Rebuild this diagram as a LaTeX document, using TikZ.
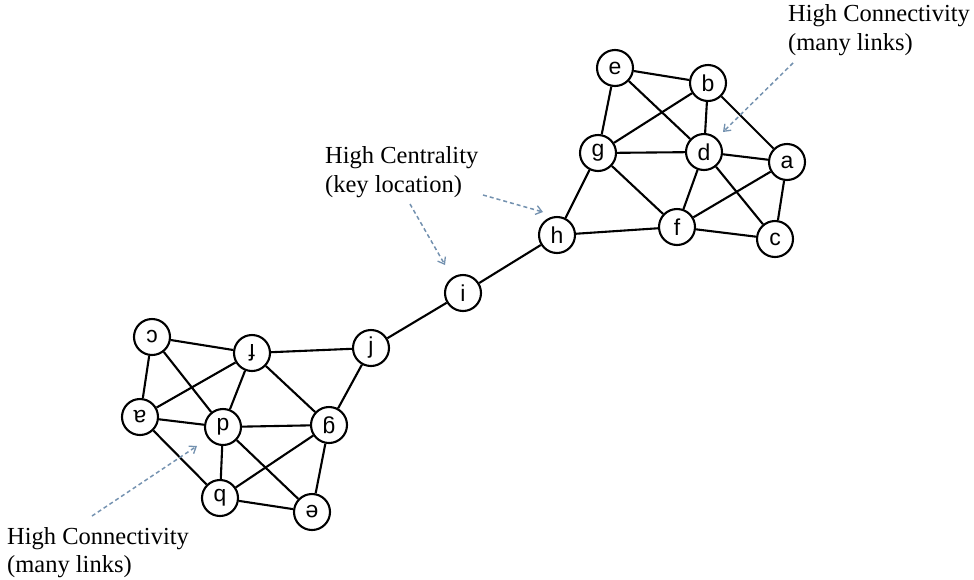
\documentclass[tikz,border=0pt]{standalone}
\usepackage{fontspec}
\setmainfont{Liberation Serif}
\newfontfamily\nodefont{Liberation Sans}
\usetikzlibrary{arrows.meta}
\definecolor{arrowc}{RGB}{115,145,175}
\tikzset{
  vtx/.style={circle,draw=black,line width=2.1pt,minimum size=36pt,inner sep=0pt,fill=white,font=\nodefont\fontsize{23}{23}\selectfont},
  flip/.style={vtx,rotate=180},
  link/.style={line width=2.1pt,black},
  note/.style={anchor=base west,inner sep=0pt,font=\fontsize{24.5}{28}\selectfont},
  pointer/.style={arrowc,line width=1.5pt,dash pattern=on 4pt off 3pt,-{Straight Barb[length=6pt,width=9pt,line width=1.3pt]}}
}
\begin{document}
\begin{tikzpicture}[x=1pt,y=-1pt]
\useasboundingbox (0,0) rectangle (974,579);
% upper cluster
\node[vtx] (e) at (615,68) {e};
\node[vtx] (b) at (708,83) {b};
\node[vtx] (g) at (598,153) {g};
\node[vtx] (d) at (704,152) {d};
\node[vtx] (a) at (787,162) {a};
\node[vtx] (h) at (557,235) {h};
\node[vtx] (f) at (677,227) {f};
\node[vtx] (c) at (775,239) {c};
% bridge
\node[vtx] (i) at (463,293) {i};
\node[vtx] (j) at (371,348) {j};
% lower cluster (upside-down labels)
\node[flip] (Lc) at (152,337) {c};
\node[flip] (Lf) at (252,353) {f};
\node[flip] (La) at (140,417) {a};
\node[flip] (Ld) at (223,427) {d};
\node[flip] (Lg) at (329,425) {g};
\node[flip] (Lb) at (220,498) {b};
\node[flip] (Le) at (312,512) {e};
% edges
\foreach \u/\v in {e/b,e/g,e/d,b/g,b/d,b/a,g/d,g/h,g/f,d/a,d/f,d/c,a/f,a/c,h/f,f/c,h/i,i/j,
  Lc/Lf,Lc/La,Lc/Ld,Lf/j,Lf/La,Lf/Ld,Lf/Lg,j/Lg,La/Ld,La/Lb,Ld/Lg,Ld/Lb,Ld/Le,Lg/Lb,Lg/Le,Lb/Le}
  \draw[link] (\u) -- (\v);
% annotations
\node[note] (t1) at (788,21) {High Connectivity};
\node[note] (t2) at (788,50) {(many links)};
\node[note] (m1) at (325,163) {High Centrality};
\node[note] (m2) at (325,192) {(key location)};
\node[note] (s1) at (7,544) {High Connectivity};
\node[note] (s2) at (7,572) {(many links)};
\coordinate (p1) at (793,63);  \coordinate (q1) at (723,132);
\coordinate (p2) at (410,204); \coordinate (q2) at (445,265);
\coordinate (p3) at (483,195); \coordinate (q3) at (543,212);
\coordinate (p4) at (92,516);  \coordinate (q4) at (197,446);
\draw[pointer] (p1) -- (q1);
\draw[pointer] (p2) -- (q2);
\draw[pointer] (p3) -- (q3);
\draw[pointer] (p4) -- (q4);
\end{tikzpicture}
\end{document}
